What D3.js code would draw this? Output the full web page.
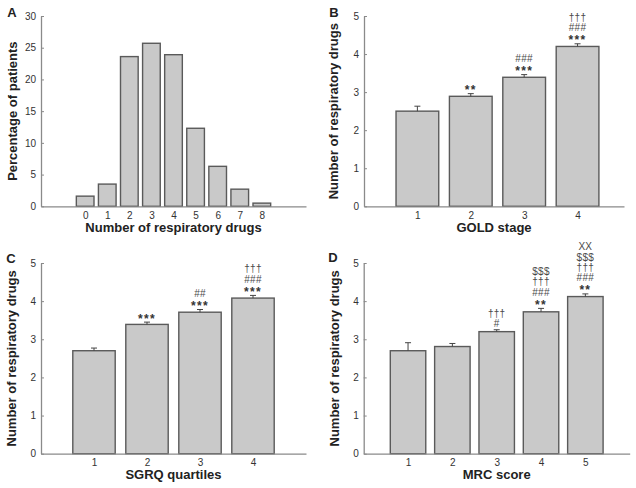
<!DOCTYPE html>
<html>
<head>
<meta charset="utf-8">
<script src="https://cdn.jsdelivr.net/npm/d3@7"></script>
<style>
  html, body { margin: 0; padding: 0; background: #fff; }
  svg { display: block; font-family: "Liberation Sans", Arial, sans-serif; }
</style>
</head>
<body>
<svg id="chart" width="636" height="488"></svg>
<script>
// ---- Panel A data ----
const drugCounts = [0, 1, 2, 3, 4, 5, 6, 7, 8];
const pctPatients = [1.6, 3.5, 23.6, 25.7, 23.9, 12.3, 6.3, 2.7, 0.5];
const pctTicks = [0, 5, 10, 15, 20, 25, 30];

// ---- Panel B data ----
const goldStages = [1, 2, 3, 4];
const goldMeans = [2.50, 2.89, 3.39, 4.20];
const goldSE = [0.13, 0.07, 0.07, 0.07];
const goldSig = [[], ["**"], ["***", "###"], ["***", "###", "†††"]];

// ---- Panel C data ----
const sgrqQuartiles = [1, 2, 3, 4];
const sgrqMeans = [2.70, 3.39, 3.71, 4.08];
const sgrqSE = [0.07, 0.06, 0.07, 0.07];
const sgrqSig = [[], ["***"], ["***", "##"], ["***", "###", "†††"]];

// ---- Panel D data ----
const mrcScores = [1, 2, 3, 4, 5];
const mrcMeans = [2.70, 2.81, 3.20, 3.72, 4.12];
const mrcSE = [0.21, 0.08, 0.05, 0.09, 0.07];
const mrcSig = [[], [], ["#", "†††"], ["**", "###", "†††", "$$$"], ["**", "###", "†††", "$$$", "XX"]];

const drugTicks = [0, 1, 2, 3, 4, 5];

const svg = d3.select("#chart");

function panel(o) {
  const g = svg.append("g");
  const x = d3.scaleLinear().domain(o.xDomain).range([o.left, o.right]);
  const y = d3.scaleLinear().domain(o.yDomain).range([o.bottom, o.top]);
  const bw = x(0.8) - x(0);

  // bars
  g.selectAll("rect.bar").data(o.cats).join("rect")
    .attr("x", (d) => x(d) - bw / 2)
    .attr("y", (d, i) => y(o.vals[i]))
    .attr("width", bw)
    .attr("height", (d, i) => y(0) - y(o.vals[i]))
    .attr("fill", "#c9c9c9")
    .attr("stroke", "#5a5a5a")
    .attr("stroke-width", 1.4);

  // error bars
  if (o.se) {
    const cap = 3;
    o.cats.forEach((c, i) => {
      const top = y(o.vals[i] + o.se[i]);
      g.append("line").attr("x1", x(c)).attr("x2", x(c))
        .attr("y1", y(o.vals[i])).attr("y2", top)
        .attr("stroke", "#444").attr("stroke-width", 1);
      g.append("line").attr("x1", x(c) - cap).attr("x2", x(c) + cap)
        .attr("y1", top).attr("y2", top)
        .attr("stroke", "#444").attr("stroke-width", 1);
      // significance markers
      (o.sig[i] || []).forEach((s, k) => {
        const cy = top - 6 - k * 10.3;
        const isStar = s.indexOf("*") >= 0;
        g.append("text")
          .attr("x", x(c))
          .attr("y", cy + (isStar ? 6.6 : 3.6))
          .attr("text-anchor", "middle")
          .attr("font-size", isStar ? 12 : 10)
          .attr("font-weight", isStar ? "bold" : "normal")
          .attr("letter-spacing", isStar ? 1.3 : 0.3)
          .attr("fill", isStar ? "#333" : "#4a4a4a")
          .text(s);
      });
    });
  }

  // y axis
  const ya = g.append("g").attr("transform", `translate(${o.left},0)`)
    .call(d3.axisLeft(y).tickValues(o.yTicks).tickFormat(d3.format("d"))
      .tickSizeInner(-3).tickSizeOuter(0).tickPadding(5));
  ya.select(".domain").attr("stroke", "#8a8a8a").attr("stroke-width", 1.3);
  ya.selectAll(".tick line").attr("stroke", "#8a8a8a");
  ya.selectAll(".tick text").attr("font-size", 10).attr("fill", "#333")
    .attr("font-family", "Liberation Sans, Arial, sans-serif");

  // x axis
  const xa = g.append("g").attr("transform", `translate(0,${o.bottom})`)
    .call(d3.axisBottom(x).tickValues(o.cats).tickFormat(d3.format("d"))
      .tickSize(0).tickPadding(5.4));
  xa.select(".domain").attr("stroke", "#8a8a8a").attr("stroke-width", 1.3);
  xa.selectAll(".tick text").attr("font-size", 10).attr("fill", "#333")
    .attr("font-family", "Liberation Sans, Arial, sans-serif");

  // axis titles
  g.append("text")
    .attr("x", (o.left + o.right) / 2).attr("y", o.bottom + 25.5)
    .attr("text-anchor", "middle").attr("font-size", 13).attr("font-weight", "bold")
    .attr("fill", "#222").text(o.xTitle);
  g.append("text")
    .attr("transform", `translate(${o.yTitleX},${(o.top + o.bottom) / 2}) rotate(-90)`)
    .attr("dy", "0.35em")
    .attr("text-anchor", "middle").attr("font-size", 13).attr("font-weight", "bold")
    .attr("fill", "#222").text(o.yTitle);

  // panel letter
  g.append("text").attr("x", o.letterX).attr("y", o.letterY).attr("dy", "0.35em")
    .attr("text-anchor", "middle").attr("font-size", 13).attr("font-weight", "bold")
    .attr("fill", "#222").text(o.letter);
}

panel({
  cats: drugCounts, vals: pctPatients, xDomain: [-2, 10], yDomain: [0, 30], yTicks: pctTicks,
  left: 41, right: 306, top: 16, bottom: 206.3,
  xTitle: "Number of respiratory drugs", yTitle: "Percentage of patients",
  yTitleX: 12, letter: "A", letterX: 12, letterY: 12
});
panel({
  cats: goldStages, vals: goldMeans, se: goldSE, sig: goldSig,
  xDomain: [0, 4.87], yDomain: [0, 5], yTicks: drugTicks,
  left: 364, right: 624, top: 16, bottom: 206.3,
  xTitle: "GOLD stage", yTitle: "Number of respiratory drugs",
  yTitleX: 333, letter: "B", letterX: 334, letterY: 12
});
panel({
  cats: sgrqQuartiles, vals: sgrqMeans, se: sgrqSE, sig: sgrqSig,
  xDomain: [0, 5], yDomain: [0, 5], yTicks: drugTicks,
  left: 41, right: 306, top: 263, bottom: 453.7,
  xTitle: "SGRQ quartiles", yTitle: "Number of respiratory drugs",
  yTitleX: 11.5, letter: "C", letterX: 11, letterY: 258
});
panel({
  cats: mrcScores, vals: mrcMeans, se: mrcSE, sig: mrcSig,
  xDomain: [0, 6], yDomain: [0, 5], yTicks: drugTicks,
  left: 363.7, right: 629.7, top: 263, bottom: 453.7,
  xTitle: "MRC score", yTitle: "Number of respiratory drugs",
  yTitleX: 334, letter: "D", letterX: 333, letterY: 257
});
</script>
</body>
</html>
